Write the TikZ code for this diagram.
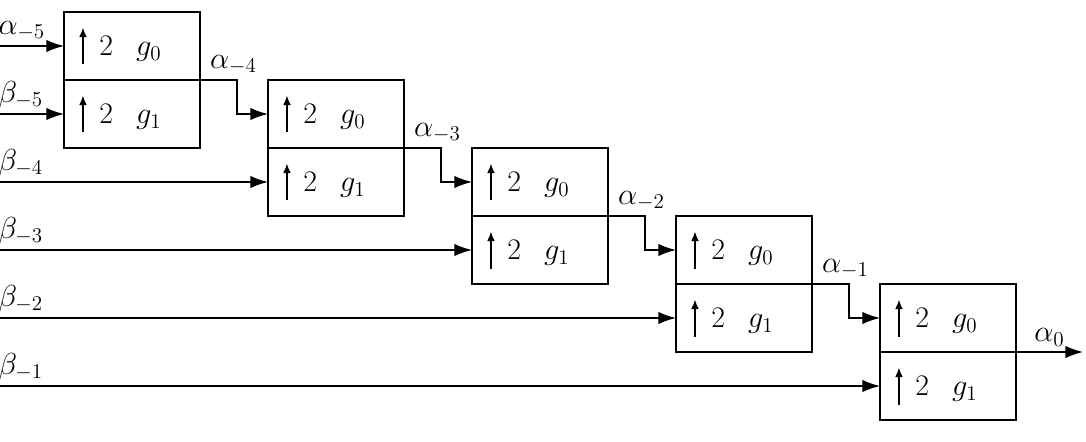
\documentclass[tikz,border=0pt]{standalone}
\usetikzlibrary{positioning,arrows.meta}

\begin{document}
\begin{tikzpicture}[
            node distance=0cm and 1.36cm,
            half/.style={draw, line width=0.8pt, outer sep=0pt, inner sep=0pt, minimum width=2.72cm, minimum height=1.36cm, text width=2.72cm, align=left, font=\fontsize{17}{20}\selectfont},
            sig/.style={-{Latex[length=10pt,width=7pt]}, line width=0.8pt},
            lbl/.style={font=\fontsize{17}{20}\selectfont, inner sep=1pt},
            up/.style={-{Latex[length=5.5pt,width=4.5pt]}, line width=0.9pt}
        ]
            \useasboundingbox (0,0) rectangle (21.72,-8.84);
            \coordinate (left) at (0,0);
            \coordinate (right) at (21.66,0);

            \node[half] (up1) at (2.64,-0.92) {\hspace{0.3cm}\tikz[baseline]\draw[up] (0,-0.18) -- (0,0.56);\hspace{0.25cm}2\hspace{0.46cm}$g_0$};
            \node[half, below=of up1] (lo1) {\hspace{0.3cm}\tikz[baseline]\draw[up] (0,-0.18) -- (0,0.56);\hspace{0.25cm}2\hspace{0.46cm}$g_1$};
            \node[half, right=of lo1] (up2) {\hspace{0.3cm}\tikz[baseline]\draw[up] (0,-0.18) -- (0,0.56);\hspace{0.25cm}2\hspace{0.46cm}$g_0$};
            \node[half, below=of up2] (lo2) {\hspace{0.3cm}\tikz[baseline]\draw[up] (0,-0.18) -- (0,0.56);\hspace{0.25cm}2\hspace{0.46cm}$g_1$};
            \node[half, right=of lo2] (up3) {\hspace{0.3cm}\tikz[baseline]\draw[up] (0,-0.18) -- (0,0.56);\hspace{0.25cm}2\hspace{0.46cm}$g_0$};
            \node[half, below=of up3] (lo3) {\hspace{0.3cm}\tikz[baseline]\draw[up] (0,-0.18) -- (0,0.56);\hspace{0.25cm}2\hspace{0.46cm}$g_1$};
            \node[half, right=of lo3] (up4) {\hspace{0.3cm}\tikz[baseline]\draw[up] (0,-0.18) -- (0,0.56);\hspace{0.25cm}2\hspace{0.46cm}$g_0$};
            \node[half, below=of up4] (lo4) {\hspace{0.3cm}\tikz[baseline]\draw[up] (0,-0.18) -- (0,0.56);\hspace{0.25cm}2\hspace{0.46cm}$g_1$};
            \node[half, right=of lo4] (up5) {\hspace{0.3cm}\tikz[baseline]\draw[up] (0,-0.18) -- (0,0.56);\hspace{0.25cm}2\hspace{0.46cm}$g_0$};
            \node[half, below=of up5] (lo5) {\hspace{0.3cm}\tikz[baseline]\draw[up] (0,-0.18) -- (0,0.56);\hspace{0.25cm}2\hspace{0.46cm}$g_1$};

            % inputs from the left
            \draw[sig] (up1.west -| left) -- (up1.west);
            \draw[sig] (lo1.west -| left) -- (lo1.west);
            \draw[sig] (lo2.west -| left) -- (lo2.west);
            \draw[sig] (lo3.west -| left) -- (lo3.west);
            \draw[sig] (lo4.west -| left) -- (lo4.west);
            \draw[sig] (lo5.west -| left) -- (lo5.west);

            \node[lbl, above right, xshift=-2pt, yshift=2pt] (a5) at (up1.west -| left) {$\alpha_{-5}$};
            \node[lbl, above right, xshift=-2pt, yshift=2pt] (b5) at (lo1.west -| left) {$\beta_{-5}$};
            \node[lbl, above right, xshift=-2pt, yshift=2pt] (b4) at (lo2.west -| left) {$\beta_{-4}$};
            \node[lbl, above right, xshift=-2pt, yshift=2pt] (b3) at (lo3.west -| left) {$\beta_{-3}$};
            \node[lbl, above right, xshift=-2pt, yshift=2pt] (b2) at (lo4.west -| left) {$\beta_{-2}$};
            \node[lbl, above right, xshift=-2pt, yshift=2pt] (b1) at (lo5.west -| left) {$\beta_{-1}$};

            % outputs to the next stage
            \draw[sig] (lo1.north east) -- ++(0.74,0) coordinate (k1) |- (up2.west);
            \draw[sig] (lo2.north east) -- ++(0.74,0) coordinate (k2) |- (up3.west);
            \draw[sig] (lo3.north east) -- ++(0.74,0) coordinate (k3) |- (up4.west);
            \draw[sig] (lo4.north east) -- ++(0.74,0) coordinate (k4) |- (up5.west);
            \draw[sig] (lo5.north east) -- node[lbl, above, yshift=2pt] (a0) {$\alpha_0$} (lo5.north east -| right);

            \node[lbl, above, xshift=-2pt, yshift=2pt] (a4) at (k1) {$\alpha_{-4}$};
            \node[lbl, above, xshift=-2pt, yshift=2pt] (a3) at (k2) {$\alpha_{-3}$};
            \node[lbl, above, xshift=-2pt, yshift=2pt] (a2) at (k3) {$\alpha_{-2}$};
            \node[lbl, above, xshift=-2pt, yshift=2pt] (a1) at (k4) {$\alpha_{-1}$};

        \end{tikzpicture}
\end{document}
